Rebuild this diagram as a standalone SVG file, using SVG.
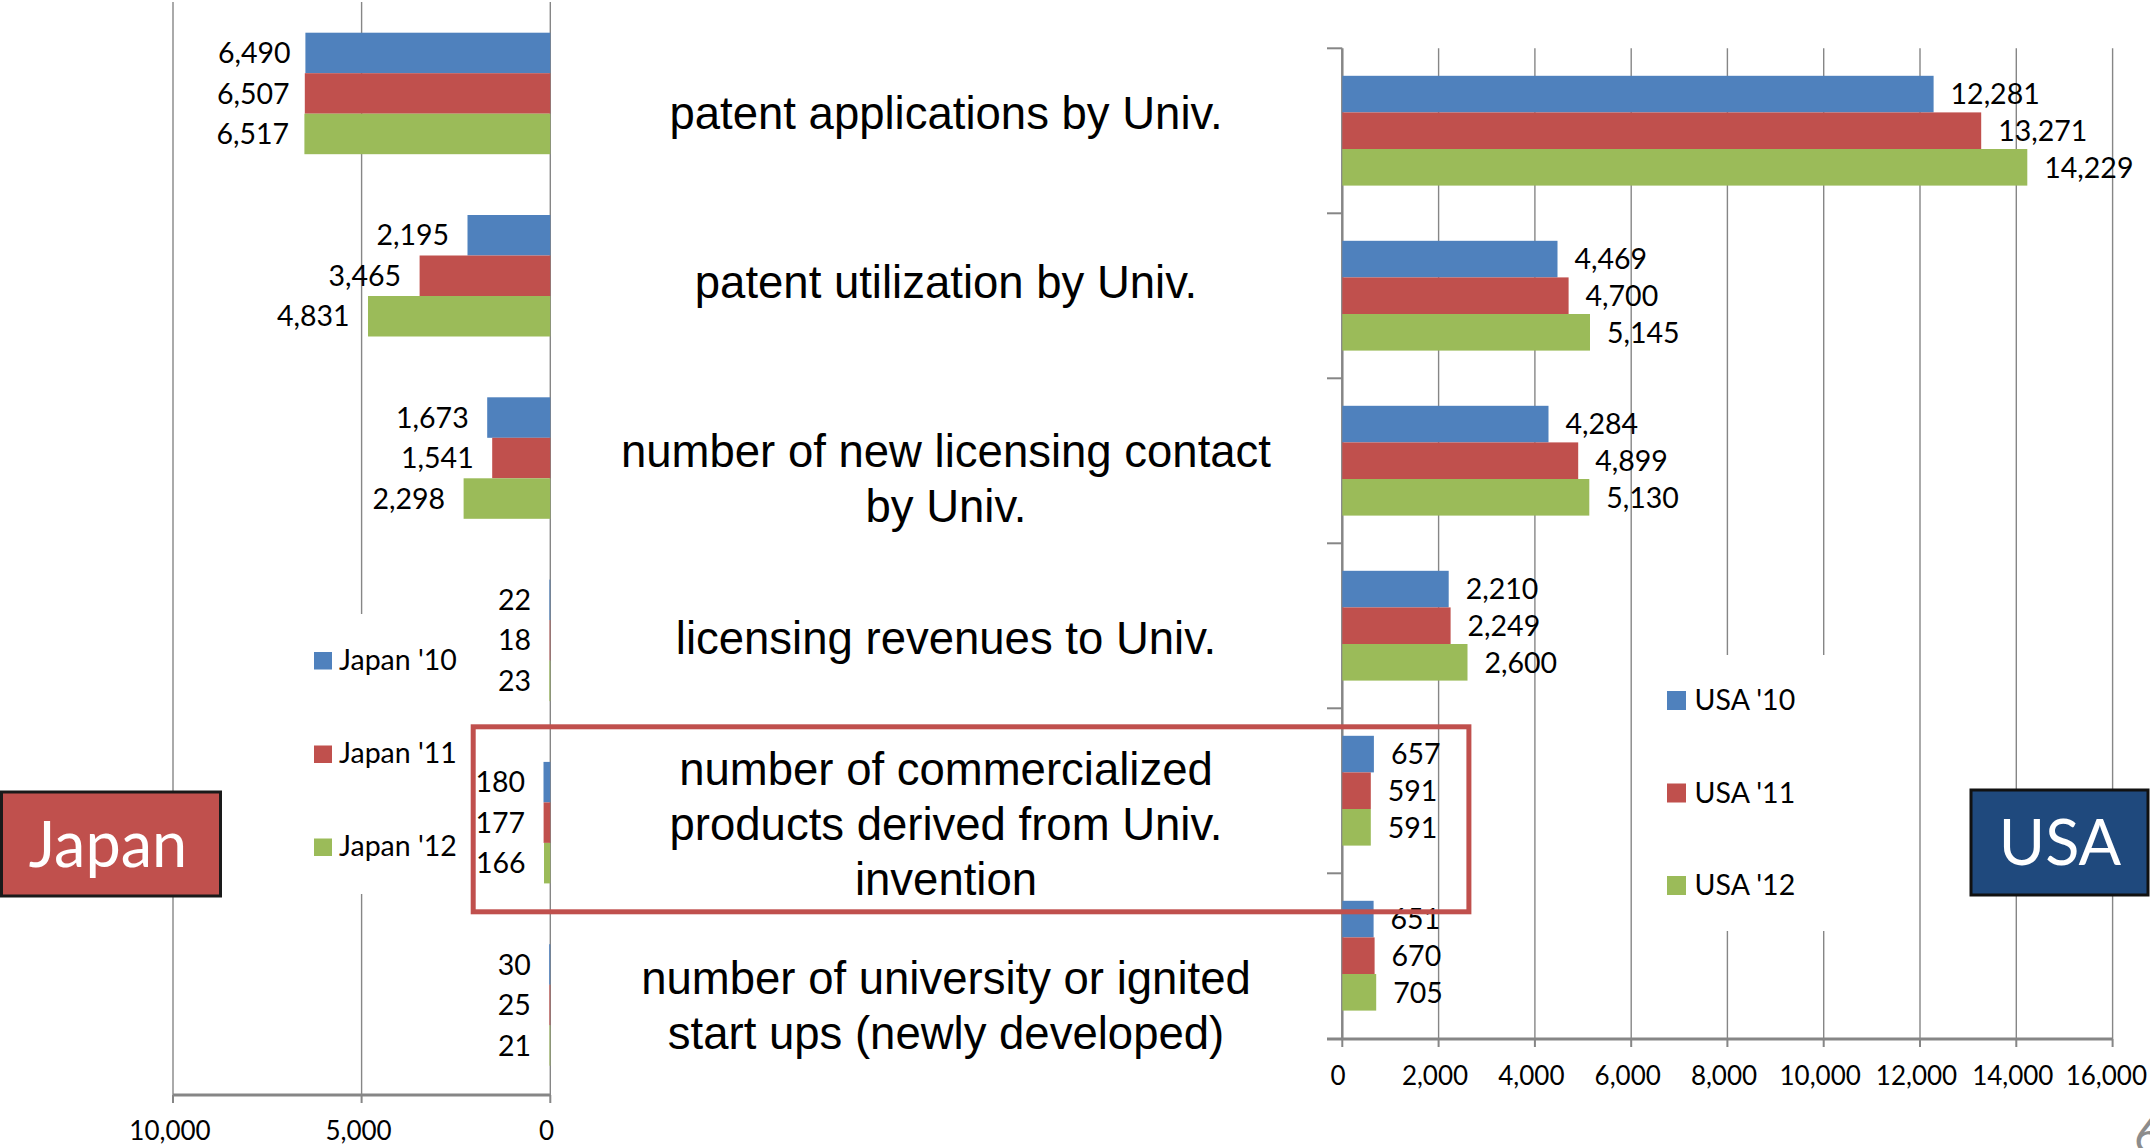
<svg xmlns="http://www.w3.org/2000/svg" width="2150" height="1148" viewBox="0 0 2150 1148">
  <style>
    .grid { stroke: #868686; stroke-width: 1.4; fill: none; }
    .axis { stroke: #868686; stroke-width: 3; fill: none; }
    .tick { stroke: #868686; stroke-width: 2; fill: none; }
    .b10 { fill: #4F81BD; }
    .b11 { fill: #C0504D; }
    .b12 { fill: #9BBB59; }
    .val { font-family: Lato, "Open Sans", sans-serif; font-size: 28.5px; fill: #000; }
    .jv { text-anchor: end; }
    .ax { font-family: Lato, "Open Sans", sans-serif; font-size: 26px; fill: #000; text-anchor: middle; }
    .leg { font-family: Lato, "Open Sans", sans-serif; font-size: 28.5px; fill: #000; }
    .cat { font-family: "Liberation Sans", Arial, sans-serif; font-size: 45.5px; fill: #000; text-anchor: middle; }
    .big { font-family: Lato, "Open Sans", sans-serif; font-size: 63px; fill: #fff; text-anchor: middle; }
  </style>

  <rect x="0" y="0" width="2150" height="1148" fill="#fff"/>

  <!-- Japan chart (reversed value axis, 0 on the right) -->
  <g id="japan-chart">
    <g id="japan-grid">
      <line class="grid" x1="173" y1="2" x2="173" y2="1095"/>
      <line class="grid" x1="361.6" y1="2" x2="361.6" y2="614"/>
      <line class="grid" x1="361.6" y1="894" x2="361.6" y2="1095"/>
      <line class="grid" x1="550.3" y1="2" x2="550.3" y2="1095"/>
      <line class="axis" x1="173" y1="1095" x2="550.3" y2="1095"/>
      <line class="tick" x1="173" y1="1095" x2="173" y2="1103"/>
      <line class="tick" x1="361.6" y1="1095" x2="361.6" y2="1103"/>
      <line class="tick" x1="550.3" y1="1095" x2="550.3" y2="1103"/>
      <text class="ax" x="170" y="1140">10,000</text>
      <text class="ax" x="358.6" y="1140">5,000</text>
      <text class="ax" x="546.5" y="1140">0</text>
    </g>
    <g id="japan-bars">
      <rect class="b10" x="305.4" y="32.7" width="244.9" height="40.5"/>
      <rect class="b11" x="304.8" y="73.2" width="245.5" height="40.5"/>
      <rect class="b12" x="304.4" y="113.7" width="245.9" height="40.5"/>

      <rect class="b10" x="467.5" y="215.0" width="82.8" height="40.5"/>
      <rect class="b11" x="419.6" y="255.5" width="130.7" height="40.5"/>
      <rect class="b12" x="368.0" y="296.0" width="182.3" height="40.5"/>

      <rect class="b10" x="487.2" y="397.3" width="63.1" height="40.5"/>
      <rect class="b11" x="492.2" y="437.8" width="58.1" height="40.5"/>
      <rect class="b12" x="463.6" y="478.3" width="86.7" height="40.5"/>

      <rect class="b10" x="549.4" y="579.6" width="0.9" height="40.5"/>
      <rect class="b11" x="549.6" y="620.1" width="0.7" height="40.5"/>
      <rect class="b12" x="549.4" y="660.6" width="0.9" height="40.5"/>

      <rect class="b10" x="543.5" y="761.9" width="6.8" height="40.5"/>
      <rect class="b11" x="543.6" y="802.4" width="6.7" height="40.5"/>
      <rect class="b12" x="544.0" y="842.9" width="6.3" height="40.5"/>

      <rect class="b10" x="549.2" y="944.2" width="1.1" height="40.5"/>
      <rect class="b11" x="549.4" y="984.7" width="0.9" height="40.5"/>
      <rect class="b12" x="549.5" y="1025.2" width="0.8" height="40.5"/>
    </g>
    <g id="japan-values">
      <text class="val jv" x="290.5" y="63">6,490</text>
      <text class="val jv" x="289.5" y="103.5">6,507</text>
      <text class="val jv" x="289" y="144">6,517</text>
      <text class="val jv" x="449" y="245.3">2,195</text>
      <text class="val jv" x="401" y="285.8">3,465</text>
      <text class="val jv" x="349.5" y="326.3">4,831</text>
      <text class="val jv" x="468.7" y="427.6">1,673</text>
      <text class="val jv" x="473.7" y="468.1">1,541</text>
      <text class="val jv" x="445" y="508.6">2,298</text>
      <text class="val jv" x="531" y="609.9">22</text>
      <text class="val jv" x="531" y="650.4">18</text>
      <text class="val jv" x="531" y="690.9">23</text>
      <text class="val jv" x="525" y="792.2">180</text>
      <text class="val jv" x="525" y="832.7">177</text>
      <text class="val jv" x="525.5" y="873.2">166</text>
      <text class="val jv" x="530.7" y="974.5">30</text>
      <text class="val jv" x="530.9" y="1015">25</text>
      <text class="val jv" x="531" y="1055.5">21</text>
    </g>
    <g id="japan-legend">
      <rect class="b10" x="314" y="652" width="18" height="17.5"/>
      <text class="leg" x="339" y="669.5">Japan '10</text>
      <rect class="b11" x="314" y="745.5" width="18" height="17.5"/>
      <text class="leg" x="339" y="763">Japan '11</text>
      <rect class="b12" x="314" y="838.5" width="18" height="17.5"/>
      <text class="leg" x="339" y="856">Japan '12</text>
    </g>
  </g>

  <!-- USA chart -->
  <g id="usa-chart">
    <g id="usa-grid">
      <line class="grid" x1="1438.6" y1="48.3" x2="1438.6" y2="1039"/>
      <line class="grid" x1="1534.9" y1="48.3" x2="1534.9" y2="1039"/>
      <line class="grid" x1="1631.2" y1="48.3" x2="1631.2" y2="1039"/>
      <line class="grid" x1="1727.4" y1="48.3" x2="1727.4" y2="655"/>
      <line class="grid" x1="1727.4" y1="931" x2="1727.4" y2="1039"/>
      <line class="grid" x1="1823.7" y1="48.3" x2="1823.7" y2="655"/>
      <line class="grid" x1="1823.7" y1="931" x2="1823.7" y2="1039"/>
      <line class="grid" x1="1920" y1="48.3" x2="1920" y2="1039"/>
      <line class="grid" x1="2016.3" y1="48.3" x2="2016.3" y2="1039"/>
      <line class="grid" x1="2112.6" y1="48.3" x2="2112.6" y2="1039"/>
      <line class="tick" x1="1342.3" y1="48.3" x2="1342.3" y2="1039" style="stroke-width:2.5"/>
      <line class="tick" x1="1327" y1="48.3" x2="1342.3" y2="48.3"/>
      <line class="tick" x1="1327" y1="213.3" x2="1342.3" y2="213.3"/>
      <line class="tick" x1="1327" y1="378.3" x2="1342.3" y2="378.3"/>
      <line class="tick" x1="1327" y1="543.3" x2="1342.3" y2="543.3"/>
      <line class="tick" x1="1327" y1="708.3" x2="1342.3" y2="708.3"/>
      <line class="tick" x1="1327" y1="873.3" x2="1342.3" y2="873.3"/>
      <line class="axis" x1="1327" y1="1039" x2="2112.6" y2="1039"/>
      <path class="tick" d="M1342.3 1039V1047 M1438.6 1039V1047 M1534.9 1039V1047 M1631.2 1039V1047 M1727.4 1039V1047 M1823.7 1039V1047 M1920 1039V1047 M2016.3 1039V1047 M2112.6 1039V1047"/>
      <text class="ax" x="1338" y="1085">0</text>
      <text class="ax" x="1435" y="1085">2,000</text>
      <text class="ax" x="1531.4" y="1085">4,000</text>
      <text class="ax" x="1627.7" y="1085">6,000</text>
      <text class="ax" x="1724" y="1085">8,000</text>
      <text class="ax" x="1820.2" y="1085">10,000</text>
      <text class="ax" x="1916.5" y="1085">12,000</text>
      <text class="ax" x="2012.8" y="1085">14,000</text>
      <text class="ax" x="2147" y="1085" style="text-anchor:end">16,000</text>
    </g>
    <g id="usa-bars">
      <rect class="b10" x="1342.3" y="75.8" width="591.3" height="36.6"/>
      <rect class="b11" x="1342.3" y="112.4" width="638.9" height="36.6"/>
      <rect class="b12" x="1342.3" y="149.0" width="685.0" height="36.6"/>

      <rect class="b10" x="1342.3" y="240.8" width="215.2" height="36.6"/>
      <rect class="b11" x="1342.3" y="277.4" width="226.3" height="36.6"/>
      <rect class="b12" x="1342.3" y="314.0" width="247.7" height="36.6"/>

      <rect class="b10" x="1342.3" y="405.8" width="206.2" height="36.6"/>
      <rect class="b11" x="1342.3" y="442.4" width="235.9" height="36.6"/>
      <rect class="b12" x="1342.3" y="479.0" width="247.0" height="36.6"/>

      <rect class="b10" x="1342.3" y="570.8" width="106.4" height="36.6"/>
      <rect class="b11" x="1342.3" y="607.4" width="108.3" height="36.6"/>
      <rect class="b12" x="1342.3" y="644.0" width="125.2" height="36.6"/>

      <rect class="b10" x="1342.3" y="735.8" width="31.6" height="36.6"/>
      <rect class="b11" x="1342.3" y="772.4" width="28.5" height="36.6"/>
      <rect class="b12" x="1342.3" y="809.0" width="28.5" height="36.6"/>

      <rect class="b10" x="1342.3" y="900.8" width="31.3" height="36.6"/>
      <rect class="b11" x="1342.3" y="937.4" width="32.3" height="36.6"/>
      <rect class="b12" x="1342.3" y="974.0" width="33.9" height="36.6"/>
    </g>
    <g id="usa-values">
      <text class="val" x="1950.6" y="104.3">12,281</text>
      <text class="val" x="1998.2" y="140.9">13,271</text>
      <text class="val" x="2044.3" y="177.5">14,229</text>
      <text class="val" x="1574.5" y="269.3">4,469</text>
      <text class="val" x="1585.6" y="305.9">4,700</text>
      <text class="val" x="1607" y="342.5">5,145</text>
      <text class="val" x="1565.5" y="434.3">4,284</text>
      <text class="val" x="1595.2" y="470.9">4,899</text>
      <text class="val" x="1606.3" y="507.5">5,130</text>
      <text class="val" x="1465.7" y="599.3">2,210</text>
      <text class="val" x="1467.6" y="635.9">2,249</text>
      <text class="val" x="1484.5" y="672.5">2,600</text>
      <text class="val" x="1390.9" y="764.3">657</text>
      <text class="val" x="1387.8" y="800.9">591</text>
      <text class="val" x="1387.8" y="837.5">591</text>
      <text class="val" x="1390.6" y="929.3">651</text>
      <text class="val" x="1391.6" y="965.9">670</text>
      <text class="val" x="1393.2" y="1002.5">705</text>
    </g>
    <g id="usa-legend">
      <rect class="b10" x="1667" y="691" width="19" height="19"/>
      <text class="leg" x="1694.6" y="710">USA '10</text>
      <rect class="b11" x="1667" y="783.5" width="19" height="19"/>
      <text class="leg" x="1694.6" y="802.5">USA '11</text>
      <rect class="b12" x="1667" y="876" width="19" height="19"/>
      <text class="leg" x="1694.6" y="895">USA '12</text>
    </g>
  </g>

  <!-- Category names shared by both charts -->
  <g id="categories">
    <text class="cat" x="946" y="129">patent applications by Univ.</text>
    <text class="cat" x="946" y="298">patent utilization by Univ.</text>
    <text class="cat" x="946" y="467">number of new licensing contact</text>
    <text class="cat" x="946" y="522">by Univ.</text>
    <text class="cat" x="946" y="654">licensing revenues to Univ.</text>
    <text class="cat" x="946" y="785">number of commercialized</text>
    <text class="cat" x="946" y="840">products derived from Univ.</text>
    <text class="cat" x="946" y="895">invention</text>
    <text class="cat" x="946" y="994">number of university or ignited</text>
    <text class="cat" x="946" y="1049">start ups (newly developed)</text>
  </g>

  <!-- Highlight frame around the commercialized-products row -->
  <g id="highlight">
    <rect x="473.2" y="726.8" width="995.7" height="185" fill="none" stroke="#C0504D" stroke-width="5"/>
  </g>

  <g id="japan-tag">
    <rect x="1.5" y="792" width="219" height="104" fill="#C0504D" stroke="#1a1a1a" stroke-width="3"/>
    <text class="big" x="108" y="866.5">Japan</text>
  </g>

  <g id="usa-tag">
    <rect x="1971" y="790" width="177" height="105" fill="#1F497D" stroke="#111" stroke-width="3"/>
    <text class="big" x="2060" y="865">USA</text>
  </g>

  <g id="page-number">
    <text x="2134" y="1153" font-family="Lato, 'Open Sans', sans-serif" font-size="48" fill="#8c8c8c">6</text>
  </g>
</svg>
